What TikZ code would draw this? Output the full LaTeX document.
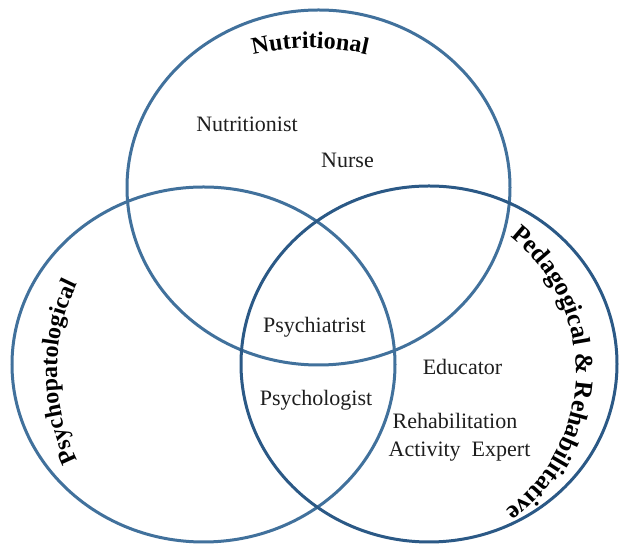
\documentclass[tikz,border=0pt]{standalone}
\usepackage{fontspec}
\setmainfont{Liberation Serif}
\usetikzlibrary{decorations.text}

\definecolor{ringblue}{HTML}{41719C}
\definecolor{ringdark}{HTML}{2B5986}
\definecolor{inktext}{HTML}{1E1E1E}

\newcommand{\arclabelfont}{\fontsize{24}{28}\selectfont\bfseries}
\newcommand{\arclabelwide}{\fontsize{25.5}{30}\selectfont\bfseries}

\begin{document}
\begin{tikzpicture}[x=1pt,y=1pt,
  ring/.style={line width=3pt, draw=ringblue},
  ringright/.style={line width=3pt, draw=ringdark},
  role/.style={font=\fontsize{22}{26}\selectfont, text=inktext, anchor=base, inner sep=0pt},
  arclabel/.style={decorate, decoration={text along path, text align=center,
     text={|\arclabelfont|#1}}},
  arclabelwide/.style={decorate, decoration={text along path, text align=center,
     text={|\arclabelwide|#1}}}
]
% canvas
\fill[white] (0,0) rectangle (619,545);
\useasboundingbox (0,0) rectangle (619,545);

% the three domains
\draw[ring] (318.5,357.5) ellipse[x radius=191.5, y radius=177.5];
\draw[ring] (203.5,180.5) ellipse[x radius=191.5, y radius=177.5];
\draw[ringright] (429,181) ellipse[x radius=188, y radius=178];

% domain titles set along arcs
\coordinate (topc) at (310,247);
\path[arclabel={Nutritional}] (topc) ++(118:250) arc[start angle=118, end angle=62, radius=250];

\coordinate (leftc) at (257,173);
\path[arclabel={Psychopatological}] (leftc) ++(212:200) arc[start angle=212, end angle=148, radius=200];

\coordinate (rightc) at (405,173);
\path[arclabelwide={Pedagogical {\&} Rehabilitative}] (rightc) ++(66:171) arc[start angle=66, end angle=-68, radius=171];

% professional roles
\node[role] (nutritionist) at (247,413) {Nutritionist};
\node[role] (nurse) at (347.5,377) {Nurse};
\node[role] (psychiatrist) at (314.5,212) {Psychiatrist};
\node[role] (psychologist) at (316,139) {Psychologist};
\node[role] (educator) at (462.5,170) {Educator};
\node[role] (rehab) at (455,116) {Rehabilitation};
\node[role] (expert) at (459.5,88) {Activity\ \ Expert};
\end{tikzpicture}
\end{document}
